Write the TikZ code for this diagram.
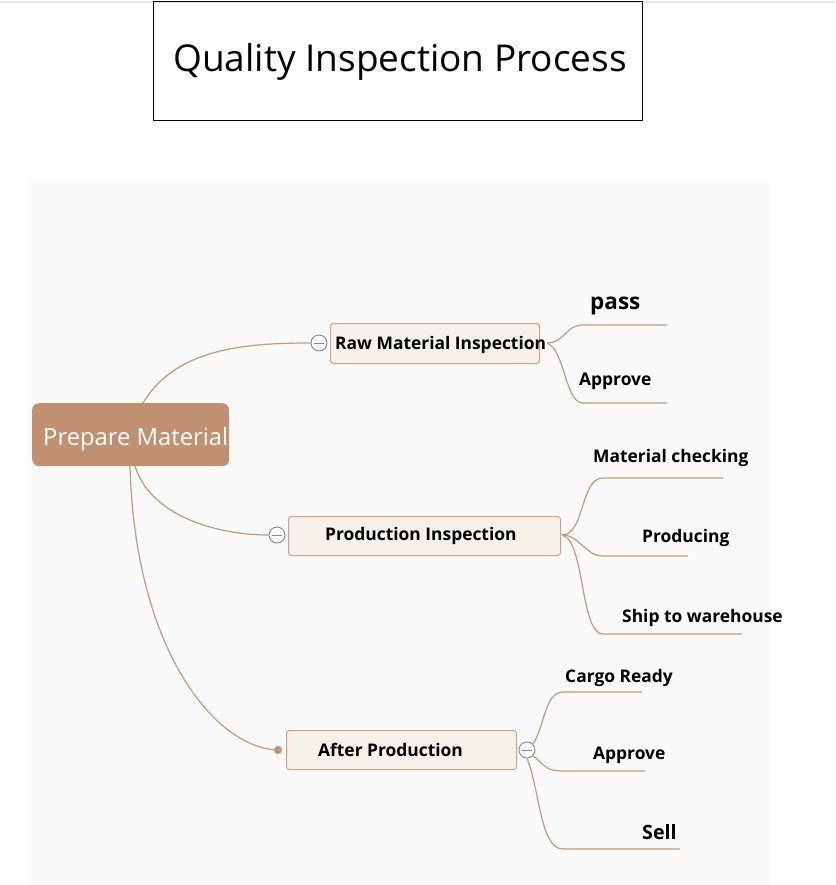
\documentclass[tikz,border=0pt]{standalone}
\usepackage{fontspec}
\setmainfont{Open Sans}
\definecolor{linec}{HTML}{C49A7A}
\definecolor{mainfill}{HTML}{C09070}
\definecolor{boxfill}{HTML}{F6F0EA}
\definecolor{boxedge}{HTML}{C9A384}
\definecolor{panel}{HTML}{FAFAFA}
\definecolor{icon}{HTML}{8A8A8A}
\begin{document}
\begin{tikzpicture}[x=1pt,y=-1pt,
  conn/.style={draw=linec,line width=1.2pt},
  subbox/.style={draw=boxedge,fill=boxfill,line width=1pt,rounded corners=3pt,anchor=north west,inner sep=0pt},
  lbl/.style={font=\fontsize{17.4}{20}\selectfont\bfseries,inner sep=0pt,anchor=base west},
  toggle/.style={circle,draw=icon,fill=white,line width=0.9pt,minimum size=16pt,inner sep=0pt,
    path picture={\draw[icon,line width=0.9pt] ([xshift=-5pt]path picture bounding box.center) -- ([xshift=5pt]path picture bounding box.center);}}]
\useasboundingbox (0,0) rectangle (835,885);
\fill[white] (0,0) rectangle (835,885);
\draw[black!10,line width=1.5pt] (0,2) -- (835,2);
% title
\node[draw=black,line width=0.8pt,minimum width=489pt,minimum height=119pt,anchor=north west,inner sep=0pt] (title) at (153,1.5) {};
\node[font=\fontsize{37}{42}\selectfont,anchor=base] (titletext) at (400,72) {Quality Inspection Process};
% panel
\fill[panel,rounded corners=3pt] (28,183) rectangle (770,885);
% main node
\node[fill=mainfill,rounded corners=7pt,minimum width=197pt,minimum height=63pt,anchor=north west,inner sep=0pt] (main) at (32,403) {};
\node[font=\fontsize{23.8}{26}\selectfont,text=white,anchor=base west,inner sep=0pt] (maintext) at (43,445) {Prepare Material};
% sub boxes
\node[subbox,minimum width=209pt,minimum height=40pt] (rmi) at (330,323) {};
\node[lbl] (rmitext) at (335,349) {Raw Material Inspection};
\node[subbox,minimum width=272pt,minimum height=39pt] (pi) at (288,516) {};
\node[lbl] (pitext) at (325,540) {Production Inspection};
\node[subbox,minimum width=230pt,minimum height=39pt] (ap) at (286,730) {};
\node[lbl] (aptext) at (318,756) {After Production};
% toggles
\node[toggle] (t1) at (319,343) {};
\node[toggle] (t2) at (277,535) {};
\node[toggle] (t3) at (527,750) {};
\node[circle,fill=mainfill,minimum size=8pt,inner sep=0pt] (dot) at (278,750) {};
% main connectors
\draw[conn] (143,403) .. controls (175,350) and (240,343) .. (t1.west);
\draw[conn] (135,466) .. controls (150,515) and (215,535) .. (t2.west);
\draw[conn] (130,466) .. controls (135,650) and (215,748) .. (dot.center);
% leaf coordinates
\coordinate (rs) at (547,343);
\coordinate (a1) at (583,325); \coordinate (a1e) at (667,325);
\coordinate (a2) at (583,403); \coordinate (a2e) at (667,403);
\coordinate (ps) at (562,535);
\coordinate (b1) at (603,478); \coordinate (b1e) at (723,478);
\coordinate (b2) at (603,556); \coordinate (b2e) at (688,556);
\coordinate (b3) at (603,634); \coordinate (b3e) at (742,634);
\coordinate (c1) at (563,692); \coordinate (c1e) at (642,692);
\coordinate (c2) at (563,771); \coordinate (c2e) at (645,771);
\coordinate (c3) at (563,849); \coordinate (c3e) at (680,849);
\draw[conn] (rs) .. controls (565,343) and (565,325) .. (a1) -- (a1e);
\draw[conn] (rs) .. controls (565,350) and (565,403) .. (a2) -- (a2e);
\draw[conn] (ps) .. controls (585,535) and (580,478) .. (b1) -- (b1e);
\draw[conn] (ps) .. controls (580,535) and (585,556) .. (b2) -- (b2e);
\draw[conn] (ps) .. controls (585,540) and (580,634) .. (b3) -- (b3e);
\draw[conn] (t3.north east) .. controls (545,725) and (545,692) .. (c1) -- (c1e);
\draw[conn] (t3.south east) .. controls (545,765) and (545,771) .. (c2) -- (c2e);
\draw[conn] (t3.south) .. controls (540,790) and (540,849) .. (c3) -- (c3e);
% leaf labels
\node[lbl,font=\fontsize{22.5}{26}\selectfont\bfseries] (l1) at (590,309) {pass};
\node[lbl] (l2) at (579,385) {Approve};
\node[lbl] (l3) at (593,462) {Material checking};
\node[lbl] (l4) at (642,542) {Producing};
\node[lbl] (l5) at (622,622) {Ship to warehouse};
\node[lbl] (l6) at (565,682) {Cargo Ready};
\node[lbl] (l7) at (593,759) {Approve};
\node[lbl,font=\fontsize{19.7}{22}\selectfont\bfseries] (l8) at (642,839) {Sell};
\end{tikzpicture}
\end{document}
